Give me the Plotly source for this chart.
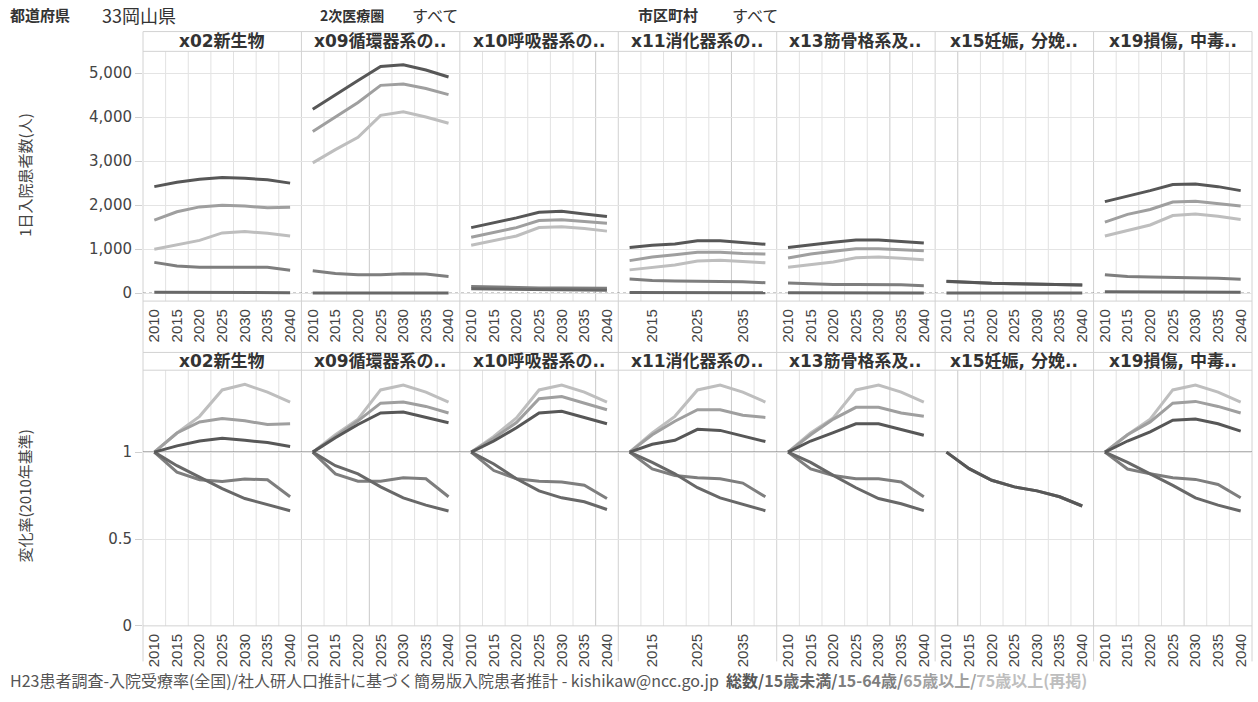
import plotly.graph_objects as go

W, H = 1258, 702

# ---------------- data ----------------
years = [2010, 2015, 2020, 2025, 2030, 2035, 2040]
panels = ["x02新生物", "x09循環器系の..", "x10呼吸器系の..", "x11消化器系の..",
          "x13筋骨格系及..", "x15妊娠, 分娩..", "x19損傷, 中毒.."]
series_names = ["総数", "15歳未満", "15-64歳", "65歳以上", "75歳以上(再掲)"]
series_colors = ["#575757", "#686868", "#7e7e7e", "#9f9f9f", "#bebebe"]

# daily inpatients (people), one row per panel
pat_total = [[2420, 2520, 2590, 2630, 2610, 2575, 2500],
             [4180, 4510, 4830, 5150, 5190, 5070, 4910],
             [1490, 1600, 1710, 1840, 1860, 1800, 1740],
             [1040, 1090, 1120, 1190, 1190, 1150, 1110],
             [1040, 1105, 1155, 1210, 1210, 1175, 1140],
             [270, 245, 226, 216, 210, 200, 186],
             [2080, 2200, 2330, 2470, 2480, 2420, 2330]]
pat_u15 = [[20, 18, 16, 15, 14, 13, 12],
           [5, 5, 4, 4, 4, 3, 3],
           [100, 93, 86, 79, 74, 71, 67],
           [15, 14, 13, 12, 11, 10, 10],
           [8, 7, 7, 6, 6, 5, 5],
           [3, 3, 2, 2, 2, 2, 2],
           [35, 33, 31, 29, 27, 25, 23]]
pat_1564 = [[700, 620, 590, 585, 590, 590, 520],
            [510, 450, 420, 420, 440, 435, 380],
            [150, 135, 125, 120, 118, 115, 110],
            [320, 290, 278, 272, 270, 262, 238],
            [230, 208, 200, 195, 195, 190, 172],
            [268, 243, 224, 214, 208, 199, 185],
            [420, 380, 368, 358, 354, 342, 315]]
pat_65 = [[1660, 1850, 1960, 2000, 1980, 1940, 1950],
          [3670, 4010, 4330, 4720, 4750, 4650, 4510],
          [1270, 1380, 1490, 1650, 1670, 1630, 1590],
          [740, 820, 875, 930, 930, 900, 890],
          [800, 890, 955, 1010, 1010, 985, 965],
          None,
          [1615, 1790, 1900, 2070, 2090, 2040, 1980]]
pat_75 = [[1000, 1100, 1200, 1370, 1400, 1360, 1300],
          [2960, 3260, 3540, 4040, 4120, 4000, 3860],
          [1090, 1190, 1300, 1490, 1510, 1470, 1410],
          [530, 590, 640, 730, 750, 720, 690],
          [590, 655, 710, 805, 820, 795, 760],
          None,
          [1300, 1430, 1550, 1765, 1800, 1750, 1675]]

# change rate (2010 = 1), one row per panel
rate_total = [[1, 1.036, 1.064, 1.08, 1.068, 1.055, 1.032],
              [1, 1.083, 1.159, 1.225, 1.231, 1.20, 1.169],
              [1, 1.064, 1.14, 1.225, 1.235, 1.197, 1.163],
              [1, 1.045, 1.068, 1.131, 1.125, 1.093, 1.061],
              [1, 1.064, 1.112, 1.163, 1.163, 1.131, 1.097],
              [1, 0.905, 0.838, 0.80, 0.777, 0.743, 0.69],
              [1, 1.064, 1.117, 1.184, 1.19, 1.163, 1.121]]
rate_u15 = [[1, 0.922, 0.856, 0.79, 0.733, 0.70, 0.663],
            [1, 0.922, 0.875, 0.80, 0.737, 0.695, 0.661],
            [1, 0.932, 0.847, 0.777, 0.737, 0.714, 0.67],
            [1, 0.941, 0.875, 0.795, 0.737, 0.70, 0.663],
            [1, 0.941, 0.866, 0.795, 0.733, 0.703, 0.663],
            None,
            [1, 0.941, 0.875, 0.809, 0.737, 0.695, 0.661]]
rate_1564 = [[1, 0.885, 0.841, 0.831, 0.845, 0.841, 0.743],
             [1, 0.875, 0.833, 0.833, 0.852, 0.847, 0.743],
             [1, 0.894, 0.847, 0.833, 0.828, 0.809, 0.733],
             [1, 0.903, 0.866, 0.852, 0.847, 0.822, 0.743],
             [1, 0.903, 0.866, 0.847, 0.847, 0.828, 0.743],
             [1, 0.905, 0.838, 0.80, 0.777, 0.743, 0.69],
             [1, 0.903, 0.875, 0.852, 0.843, 0.814, 0.737]]
rate_65 = [[1, 1.11, 1.174, 1.193, 1.18, 1.159, 1.163],
           [1, 1.09, 1.18, 1.282, 1.288, 1.263, 1.225],
           [1, 1.08, 1.17, 1.307, 1.32, 1.282, 1.244],
           [1, 1.10, 1.178, 1.244, 1.244, 1.212, 1.20],
           [1, 1.10, 1.19, 1.258, 1.258, 1.225, 1.206],
           None,
           [1, 1.10, 1.174, 1.282, 1.292, 1.263, 1.225]]
rate_75 = [[1, 1.11, 1.206, 1.358, 1.39, 1.345, 1.288],
           [1, 1.10, 1.19, 1.358, 1.386, 1.345, 1.288],
           [1, 1.09, 1.197, 1.358, 1.386, 1.345, 1.288],
           [1, 1.11, 1.206, 1.358, 1.386, 1.345, 1.288],
           [1, 1.11, 1.197, 1.358, 1.386, 1.345, 1.288],
           None,
           [1, 1.10, 1.19, 1.358, 1.386, 1.345, 1.288]]

top_ticks = [0, 1000, 2000, 3000, 4000, 5000]
bot_ticks = [0, 0.5, 1]
bot_ticktext = ["0", "0.5", "1"]

# ---------------- layout geometry (px) ----------------
LEFT, RIGHT = 143, 1252
NP = len(panels)
PW = (RIGHT - LEFT) / NP
ROWS = [dict(hdr_top=32, hdr_bot=52, plot_bot=305, lab_bot=357,
             yrange=[-179, 5493], ticks=top_ticks, ticktext=None),
        dict(hdr_top=357, hdr_bot=375, plot_bot=634, lab_bot=670,
             yrange=[0, 1.4716], ticks=bot_ticks, ticktext=bot_ticktext)]
# slightly darker band separators (panel index -> separator index)
dark_sep = {1: 2, 2: 5, 3: 4, 4: 4, 5: 0, 6: 3}

LAT = "Liberation Sans, Arial, 'Noto Sans CJK JP', sans-serif"
WIDE = "DejaVu Sans, 'Noto Sans CJK JP', sans-serif"
JP = "'Noto Sans CJK JP', DejaVu Sans, sans-serif"


def fx(x):
    return x / W


def fy(y):
    return 1 - y / H


fig = go.Figure()
layout = dict(width=W, height=H, margin=dict(l=0, r=0, t=0, b=0),
              paper_bgcolor="white", plot_bgcolor="rgba(0,0,0,0)",
              showlegend=False, font=dict(family=LAT, color="#444"))
shapes = []
annotations = []

top_data = [pat_total, pat_u15, pat_1564, pat_65, pat_75]
bot_data = [rate_total, rate_u15, rate_1564, rate_65, rate_75]
draw_order = [4, 3, 2, 1, 0]

for r, row in enumerate(ROWS):
    data = top_data if r == 0 else bot_data
    for i in range(NP):
        n = r * NP + i + 1
        xn = "xaxis" if n == 1 else f"xaxis{n}"
        yn = "yaxis" if n == 1 else f"yaxis{n}"
        xr = "x" if n == 1 else f"x{n}"
        yr = "y" if n == 1 else f"y{n}"
        x0 = LEFT + i * PW
        x1 = x0 + PW
        xt = [2015, 2025, 2035] if i == 3 else years
        layout[xn] = dict(domain=[fx(x0), fx(x1)], range=[2007.5, 2042.5],
                          tickvals=xt, ticktext=[str(v) for v in xt],
                          tickangle=-90, tickfont=dict(size=15, color="#444", family=LAT),
                          ticklabelstandoff=4,
                          showgrid=False, zeroline=False, showline=False,
                          ticks="", anchor=yr, fixedrange=True)
        ya = dict(domain=[fy(row["plot_bot"]), fy(row["hdr_bot"])],
                  range=row["yrange"], tickvals=row["ticks"],
                  showgrid=True, gridcolor="#e4e4e4", gridwidth=1,
                  zeroline=False, showline=False, anchor=xr, fixedrange=True,
                  showticklabels=(i == 0),
                  ticks="outside" if i == 0 else "", ticklen=7,
                  tickcolor="#d0d0d0",
                  tickfont=dict(size=15, color="#444", family=WIDE))
        if row["ticktext"] is not None:
            ya["ticktext"] = row["ticktext"]
        else:
            ya["tickformat"] = ","
        layout[yn] = ya

        # band separators
        for k in range(6):
            sx = 2012.5 + 5 * k
            col = "#c9c9c9" if dark_sep.get(i) == k else "#e2e2e2"
            shapes.append(dict(type="line", xref=xr, yref=f"{yr} domain",
                               x0=sx, x1=sx, y0=0, y1=1, layer="below",
                               line=dict(color=col, width=1)))
        # panel title
        annotations.append(dict(text=f"<b>{panels[i]}</b>", x=fx(x0 + PW / 2),
                                y=fy((row["hdr_top"] + row["hdr_bot"]) / 2),
                                xref="paper", yref="paper", showarrow=False,
                                xanchor="center", yanchor="middle",
                                font=dict(size=17, color="#333", family=WIDE)))
        # lines
        for s in draw_order:
            vals = data[s][i]
            if vals is None:
                continue
            fig.add_trace(go.Scatter(x=years, y=vals, xaxis=xr, yaxis=yr,
                                     mode="lines", name=series_names[s],
                                     line=dict(color=series_colors[s], width=3),
                                     hoverinfo="skip"))

    # panel boundaries (vertical) through header and labels
    for i in range(NP + 1):
        bx = LEFT + i * PW
        shapes.append(dict(type="line", xref="paper", yref="paper",
                           x0=fx(bx), x1=fx(bx), y0=fy(row["lab_bot"]), y1=fy(row["hdr_top"]),
                           layer="below", line=dict(color="#d2d2d2", width=1)))
    # header horizontal borders
    for yy in (row["hdr_top"], row["hdr_bot"], row["plot_bot"]):
        shapes.append(dict(type="line", xref="paper", yref="paper",
                           x0=fx(LEFT), x1=fx(RIGHT), y0=fy(yy), y1=fy(yy),
                           layer="below", line=dict(color="#d2d2d2", width=1)))

# zero line (dotted) in top row, reference line 1 in bottom row
shapes.append(dict(type="line", xref="paper", yref="y", x0=fx(LEFT), x1=fx(RIGHT),
                   y0=0, y1=0, layer="below", line=dict(color="#555", width=1, dash="dot")))
shapes.append(dict(type="line", xref="paper", yref="y8", x0=fx(LEFT), x1=fx(RIGHT),
                   y0=1, y1=1, layer="below", line=dict(color="#707070", width=1.5)))

# axis titles
annotations.append(dict(text="1日入院患者数(人)", x=fx(25), y=fy(178), xref="paper", yref="paper",
                        showarrow=False, textangle=-90, xanchor="center", yanchor="middle",
                        font=dict(size=15, color="#444", family=JP)))
annotations.append(dict(text="変化率(2010年基準)", x=fx(25), y=fy(503), xref="paper", yref="paper",
                        showarrow=False, textangle=-90, xanchor="center", yanchor="middle",
                        font=dict(size=15, color="#444", family=JP)))

# header filters
hdr = [("<b>都道府県</b>", 8, 15), ("33岡山県", 100, 18),
       ("<b>2次医療圏</b>", 318, 14), ("すべて", 410, 16),
       ("<b>市区町村</b>", 636, 15), ("すべて", 730, 16)]
for txt, xx, sz in hdr:
    annotations.append(dict(text=txt, x=fx(xx), y=fy(15), xref="paper", yref="paper",
                            showarrow=False, xanchor="left", yanchor="middle",
                            font=dict(size=sz, color="#333", family=JP)))

# footer
footer = ("H23患者調査-入院受療率(全国)/社人研人口推計に基づく簡易版入院患者推計 - kishikaw@ncc.go.jp&nbsp;&nbsp;"
          f"<b><span style='color:{series_colors[0]}'>総数/</span>"
          f"<span style='color:{series_colors[1]}'>15歳未満/</span>"
          f"<span style='color:{series_colors[2]}'>15-64歳/</span>"
          f"<span style='color:{series_colors[3]}'>65歳以上/</span>"
          f"<span style='color:{series_colors[4]}'>75歳以上(再掲)</span></b>")
annotations.append(dict(text=footer, x=fx(8), y=fy(689), xref="paper", yref="paper",
                        showarrow=False, xanchor="left", yanchor="middle",
                        font=dict(size=16, color="#555", family=JP)))

layout["shapes"] = shapes
layout["annotations"] = annotations
fig.update_layout(**layout)
fig.write_html("out.html", config={"displayModeBar": False},
               post_script="document.body.style.margin='0px';")
